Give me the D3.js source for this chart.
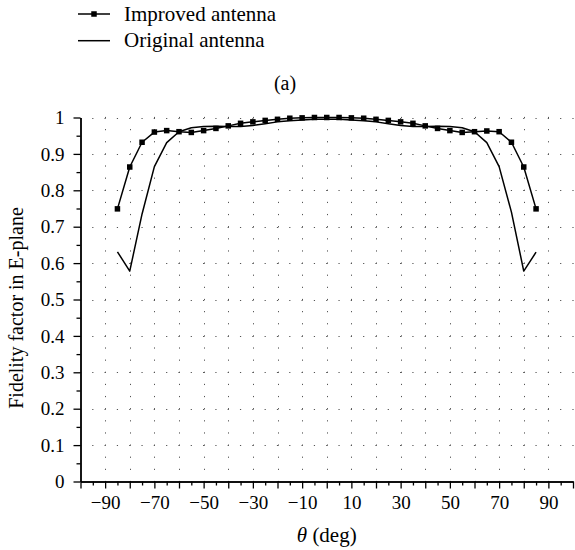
<!DOCTYPE html>
<html><head><meta charset="utf-8">
<script src="https://cdn.jsdelivr.net/npm/d3@7"></script>
<style>
body{margin:0;background:#fff}
svg{display:block}
text{font-family:"Liberation Serif","Times New Roman",serif;fill:#000}
</style>
</head><body>
<svg id="c" width="575" height="550"></svg>
<script>
// ---- data ----
const angles   = [-85,-80,-75,-70,-65,-60,-55,-50,-45,-40,-35,-30,-25,-20,-15,-10,-5,0,5,10,15,20,25,30,35,40,45,50,55,60,65,70,75,80,85];
const improved = [0.749,0.864,0.932,0.960,0.964,0.961,0.959,0.964,0.970,0.977,0.984,0.988,0.992,0.995,0.998,0.999,1.000,1.000,1.000,0.999,0.998,0.995,0.992,0.988,0.984,0.977,0.970,0.964,0.959,0.961,0.963,0.961,0.932,0.864,0.749];
const original = [0.631,0.578,0.735,0.865,0.931,0.961,0.972,0.975,0.976,0.975,0.975,0.978,0.983,0.988,0.991,0.993,0.995,0.995,0.995,0.993,0.991,0.988,0.983,0.978,0.975,0.975,0.976,0.975,0.972,0.961,0.931,0.865,0.740,0.578,0.630];
const xLabelTicks = [-90,-70,-50,-30,-10,10,30,50,70,90];
const xMajorTicks = [-100,-90,-80,-70,-60,-50,-40,-30,-20,-10,0,10,20,30,40,50,60,70,80,90,100];
const xMinorTicks = [-95,-85,-75,-65,-55,-45,-35,-25,-15,-5,5,15,25,35,45,55,65,75,85,95];
const xGridTicks  = [-90,-80,-70,-60,-50,-40,-30,-20,-10,0,10,20,30,40,50,60,70,80,90];
const yMajorTicks = [0,0.1,0.2,0.3,0.4,0.5,0.6,0.7,0.8,0.9,1];
const yMinorTicks = [0.05,0.15,0.25,0.35,0.45,0.55,0.65,0.75,0.85,0.95];
const yGridTicks  = [0.1,0.2,0.3,0.4,0.5,0.6,0.7,0.8,0.9,1];
const seriesNames = ["Improved antenna","Original antenna"];
const panelLabel  = "(a)";
const yTitle      = "Fidelity factor in E-plane";

// ---- layout ----
const svg = d3.select("#c");
const x = d3.scaleLinear().domain([-100,100]).range([80.5,573]);
const y = d3.scaleLinear().domain([0,1]).range([481.5,117.5]);
const fmt = d3.format("");

// grid (dotted lattice)
const g = svg.append("g");
const hStep = x(5)-x(0);
const vStep = y(0)-y(1/30);
g.selectAll("line.h").data(yGridTicks).join("line")
  .attr("x1",x(-100)-0.6).attr("x2",x(100)+1)
  .attr("y1",d=>Math.round(y(d))+0.5).attr("y2",d=>Math.round(y(d))+0.5)
  .attr("stroke","#555").attr("stroke-width",1)
  .attr("stroke-dasharray",`1.2 ${hStep-1.2}`);
g.selectAll("line.v").data(xGridTicks).join("line")
  .attr("x1",d=>Math.round(x(d))+0.5).attr("x2",d=>Math.round(x(d))+0.5)
  .attr("y1",y(0)+0.6).attr("y2",y(1)-1)
  .attr("stroke","#555").attr("stroke-width",1)
  .attr("stroke-dasharray",`1.2 ${vStep-1.2}`);

// axes
function styleAxis(sel){
  sel.selectAll("path.domain").attr("stroke","#000").attr("stroke-width",1.4);
  sel.selectAll(".tick line").attr("stroke","#000").attr("stroke-width",1.3);
}
const xMinor = svg.append("g").attr("transform",`translate(0,${y(0)})`)
  .call(d3.axisBottom(x).tickValues(xMinorTicks).tickSize(4).tickSizeOuter(0).tickFormat(""));
styleAxis(xMinor);
const xMajor = svg.append("g").attr("transform",`translate(0,${y(0)})`)
  .call(d3.axisBottom(x).tickValues(xMajorTicks).tickSize(7).tickSizeOuter(0)
    .tickFormat(d=>xLabelTicks.includes(d)?fmt(d):""));
styleAxis(xMajor);
xMajor.selectAll(".tick text").attr("font-size",19).attr("font-family",'"Liberation Serif",serif')
  .attr("y",27.5).attr("dy",0);

const yMinor = svg.append("g").attr("transform",`translate(${x(-100)},0)`)
  .call(d3.axisLeft(y).tickValues(yMinorTicks).tickSize(4).tickSizeOuter(0).tickFormat(""));
styleAxis(yMinor);
const yMajor = svg.append("g").attr("transform",`translate(${x(-100)},0)`)
  .call(d3.axisLeft(y).tickValues(yMajorTicks).tickSize(7).tickSizeOuter(0).tickFormat(fmt));
styleAxis(yMajor);
yMajor.selectAll(".tick text").attr("font-size",19).attr("font-family",'"Liberation Serif",serif')
  .attr("x",-16).attr("dy","0.33em");

// series
const lineOf = d3.line().x((d,i)=>x(angles[i])).y(d=>y(d));
svg.append("path").datum(original).attr("d",lineOf)
  .attr("fill","none").attr("stroke","#000").attr("stroke-width",1.5).attr("stroke-linejoin","round");
svg.append("path").datum(improved).attr("d",lineOf)
  .attr("fill","none").attr("stroke","#000").attr("stroke-width",1.5).attr("stroke-linejoin","round");
const ms = 5.5;
svg.selectAll("rect.m").data(improved).join("rect")
  .attr("x",(d,i)=>x(angles[i])-ms/2).attr("y",d=>y(d)-ms/2)
  .attr("width",ms).attr("height",ms).attr("fill","#000");

// legend
const leg = svg.append("g");
const legY = [14,40.7];
seriesNames.forEach((name,i)=>{
  leg.append("line").attr("x1",78).attr("x2",110).attr("y1",legY[i]).attr("y2",legY[i])
    .attr("stroke","#000").attr("stroke-width",1.5);
  if(i===0) leg.append("rect").attr("x",94-ms/2).attr("y",legY[i]-ms/2).attr("width",ms).attr("height",ms).attr("fill","#000");
  leg.append("text").attr("x",124).attr("y",legY[i]+6.7).attr("font-size",21).text(name);
});
svg.append("text").attr("x",285).attr("y",90).attr("text-anchor","middle").attr("font-size",20).text(panelLabel);

// axis titles
const xt = svg.append("text").attr("x",(x(-100)+x(100))/2).attr("y",542).attr("text-anchor","middle").attr("font-size",21);
xt.append("tspan").attr("font-style","italic").text("θ");
xt.append("tspan").text(" (deg)");
svg.append("text").attr("transform",`translate(23,308) rotate(-90)`)
  .attr("text-anchor","middle").attr("font-size",20).text(yTitle);
</script>
</body></html>
